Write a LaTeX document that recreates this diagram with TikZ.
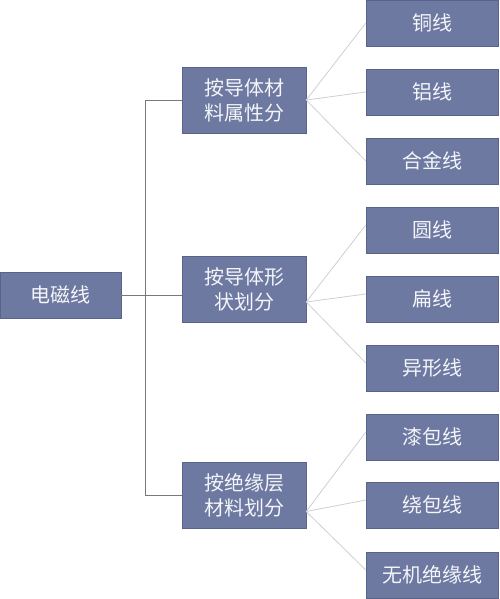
\documentclass[tikz,border=0pt]{standalone}
\usepackage{fontspec}
\setmainfont{Noto Sans CJK SC}
\usepackage{xcolor}
\usepackage{tikz}
\definecolor{boxblue}{RGB}{109,121,160}
\definecolor{boxedge}{RGB}{88,100,138}
\definecolor{boxtext}{RGB}{244,245,250}
\definecolor{trunkgray}{RGB}{120,120,120}
\definecolor{fangray}{RGB}{205,207,214}

\begin{document}
\begin{tikzpicture}[x=1pt,y=-1pt]
\tikzstyle{rootbox} = [rectangle, minimum width=121pt, minimum height=46pt, inner sep=0pt, text centered, draw=boxedge, fill=boxblue, text=boxtext, font=\fontsize{20}{25}\selectfont]
\tikzstyle{midbox} = [rectangle, minimum width=124pt, minimum height=66pt, inner sep=0pt, align=center, draw=boxedge, fill=boxblue, text=boxtext, font=\fontsize{20}{25}\selectfont]
\tikzstyle{leafbox} = [rectangle, minimum width=132pt, minimum height=46pt, inner sep=0pt, text centered, draw=boxedge, fill=boxblue, text=boxtext, font=\fontsize{20}{25}\selectfont]
\tikzstyle{trunk} = [trunkgray, line width=0.8pt]
\tikzstyle{fan} = [fangray, line width=0.8pt]
\useasboundingbox (0,0) rectangle (500,599);

\node (root) [rootbox] at (60.5,295) {电磁线};
\node (conductor) [midbox] at (244,100) {按导体材\\料属性分};
\node (shape) [midbox] at (244,289) {按导体形\\状划分};
\node (insul) [midbox] at (244,495.5) {按绝缘层\\材料划分};

\node (copper) [leafbox] at (432,23) {铜线};
\node (alu) [leafbox] at (432,92) {铝线};
\node (alloy) [leafbox] at (432,161) {合金线};
\node (round) [leafbox] at (432,230) {圆线};
\node (flat) [leafbox] at (432,299) {扁线};
\node (profile) [leafbox] at (432,368) {异形线};
\node (enamel) [leafbox] at (432,437) {漆包线};
\node (wrapped) [leafbox] at (432,505) {绕包线};
\node (inorganic) [leafbox] at (432,575) {无机绝缘线};

% trunk from the root box
\coordinate (fork) at (145,295);
\draw [trunk] (root.east) -- (fork);
\draw [trunk] (fork) |- (conductor.west);
\draw [trunk] (fork) |- (insul.west);
\draw [trunk] (fork) -- (fork -| shape.west);

% fans to the leaves
\coordinate (fan1) at (conductor.east);
\coordinate (fan2) at ([yshift=-13pt]shape.east);
\coordinate (fan3) at ([yshift=-16pt]insul.east);
\draw [fan] (fan1) -- (copper.west);
\draw [fan] (fan1) -- (alu.west);
\draw [fan] (fan1) -- (alloy.west);
\draw [fan] (fan2) -- ([yshift=5pt]round.west);
\draw [fan] (fan2) -- ([yshift=5pt]flat.west);
\draw [fan] (fan2) -- ([yshift=5pt]profile.west);
\draw [fan] (fan3) -- ([yshift=5pt]enamel.west);
\draw [fan] (fan3) -- ([yshift=5pt]wrapped.west);
\draw [fan] (fan3) -- ([yshift=5pt]inorganic.west);
\end{tikzpicture}
\end{document}
